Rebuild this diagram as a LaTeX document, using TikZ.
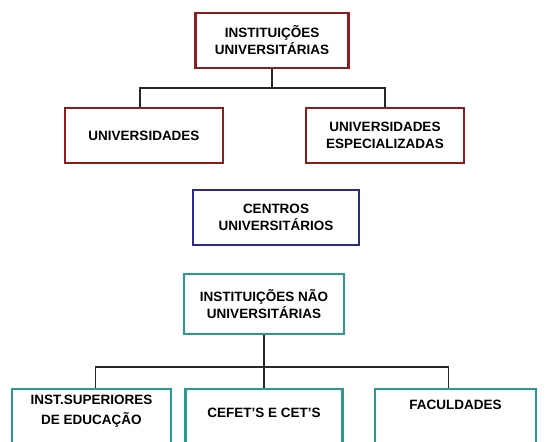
\documentclass[tikz,border=0pt]{standalone}
\usepackage{fontspec}
\setmainfont{Liberation Sans}
\usepackage{xcolor}
\usetikzlibrary{positioning}
\definecolor{UnivRed}{HTML}{8E1B1E}
\definecolor{CentroBlue}{HTML}{2B2A8A}
\definecolor{NaoTeal}{HTML}{2A9A90}

\begin{document}
\begin{tikzpicture}[
  x=1pt, y=-1pt,
  box/.style={draw, line width=2.4pt, fill=white, inner sep=2pt, align=center,
    font=\bfseries\fontsize{13.5}{17}\selectfont},
  redbox/.style={box, draw=UnivRed},
  bluebox/.style={box, draw=CentroBlue},
  tealbox/.style={box, draw=NaoTeal},
  label/.style={align=center, inner sep=0pt, font=\bfseries\fontsize{13.5}{19.5}\selectfont},
  link/.style={line width=1.6pt, draw=black!85}
]
  \useasboundingbox (0,0) rectangle (545,441);

  % universitarias
  \node[redbox, minimum width=153pt, minimum height=55pt] (inst) at (272,40.5)
    {INSTITUIÇÕES\\UNIVERSITÁRIAS};
  \node[redbox, minimum width=158pt, minimum height=55pt] (univ) at (144,135.5)
    {UNIVERSIDADES};
  \node[redbox, minimum width=158pt, minimum height=55pt] (esp) at (385,135.5)
    {UNIVERSIDADES\\ESPECIALIZADAS};
  \coordinate (bus1) at (272,88);

  \draw[link] (inst.south) -- (bus1);
  \draw[link] ([xshift=-4pt]univ.north) |- (bus1) -| (esp.north);

  % centros
  \node[bluebox, minimum width=166pt, minimum height=55pt] (centros) at (276,217.5)
    {CENTROS\\UNIVERSITÁRIOS};

  % nao universitarias
  \node[tealbox, minimum width=160pt, minimum height=60pt] (nao) at (264,304)
    {INSTITUIÇÕES NÃO\\UNIVERSITÁRIAS};
  \node[tealbox, minimum width=159pt, minimum height=70pt, anchor=north] (isup) at (91.5,388) {};
  \node[tealbox, minimum width=157pt, minimum height=70pt, anchor=north] (cefet) at (264,388) {};
  \node[tealbox, minimum width=161pt, minimum height=70pt, anchor=north] (facul) at (455.5,388) {};
  \node[label, below=7pt of isup.north] (isupT) {INST.SUPERIORES\\DE EDUCAÇÃO};
  \node[label, below=20pt of cefet.north] (cefetT) {CEFET'S E CET'S};
  \node[label, below=12pt of facul.north] (faculT) {FACULDADES};
  \coordinate (bus2) at (264,367);

  \draw[link] (nao.south) -- (bus2) -- (cefet.north);
  \draw[link] ([xshift=4pt]isup.north) |- (bus2) -| ([xshift=-7pt]facul.north);
\end{tikzpicture}
\end{document}
